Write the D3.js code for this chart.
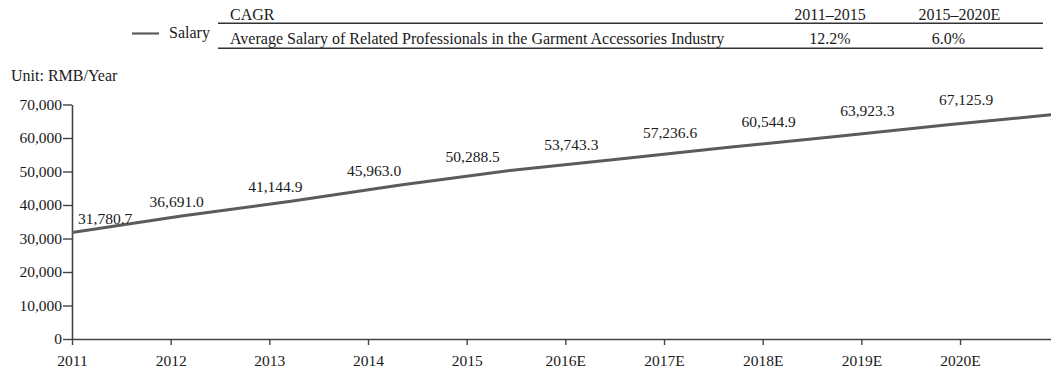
<!DOCTYPE html>
<html>
<head>
<meta charset="utf-8">
<script src="https://cdn.jsdelivr.net/npm/d3@7"></script>
<style>
  html, body { margin: 0; padding: 0; background: #fff; }
  svg { display: block; font-family: "Liberation Serif", "DejaVu Serif", serif; }
</style>
</head>
<body>
<svg id="chart" width="1051" height="372"></svg>
<script>
const categories = ["2011", "2012", "2013", "2014", "2015", "2016E", "2017E", "2018E", "2019E", "2020E"];
const salary = [31780.7, 36691.0, 41144.9, 45963.0, 50288.5, 53743.3, 57236.6, 60544.9, 63923.3, 67125.9];
const yTicks = [0, 10000, 20000, 30000, 40000, 50000, 60000, 70000];
const seriesName = "Salary";
const cagrHeader = ["CAGR", "2011\u20132015", "2015\u20132020E"];
const cagrRow = ["Average Salary of Related Professionals in the Garment Accessories Industry", "12.2%", "6.0%"];
const unitLabel = "Unit: RMB/Year";

const W = 1051, H = 372;
const svg = d3.select("#chart");
const textColor = "#1a1a1a";
const axisColor = "#444";
const lineColor = "#5b5b5b";
const font = "Liberation Serif, serif";

// scales
const y = d3.scaleLinear().domain([0, 70000]).range([339, 104.5]);
const step = 98.67;
const xAxisScale = d3.scaleLinear().domain([0, categories.length]).range([72, 72 + step * categories.length]);
const xLine = d3.scaleLinear().domain([0, categories.length - 1]).range([72, 72 + 109.5 * (categories.length - 1)]);

svg.append("defs").append("clipPath").attr("id", "clip")
  .append("rect").attr("x", 0).attr("y", 0).attr("width", W).attr("height", H);

// y axis
const yAxis = svg.append("g").attr("transform", "translate(72,0)")
  .call(d3.axisLeft(y).tickValues(yTicks).tickFormat(d3.format(",")).tickSize(9).tickSizeOuter(0).tickPadding(1));
yAxis.select(".domain").attr("stroke", axisColor).attr("stroke-width", 1.6);
yAxis.selectAll(".tick line").attr("stroke", axisColor).attr("stroke-width", 1.4);
yAxis.selectAll(".tick text").attr("fill", textColor).style("font-size", "15.5px").style("font-family", font);

// x axis
const xAxis = svg.append("g").attr("transform", "translate(0,339)")
  .call(d3.axisBottom(xAxisScale).tickValues(d3.range(categories.length)).tickFormat(i => categories[i]).tickSize(6).tickSizeOuter(0).tickPadding(10));
xAxis.select(".domain").attr("stroke", axisColor).attr("stroke-width", 1.6);
xAxis.selectAll(".tick line").attr("stroke", axisColor).attr("stroke-width", 1.4);
xAxis.selectAll(".tick text").attr("fill", textColor).style("font-size", "15.5px").style("font-family", font);

// line
const line = d3.line().x((d, i) => xLine(i)).y(d => y(d));
svg.append("path").datum(salary)
  .attr("clip-path", "url(#clip)")
  .attr("fill", "none").attr("stroke", lineColor).attr("stroke-width", 3)
  .attr("d", line);

// value labels
svg.append("g").selectAll("text").data(salary).join("text")
  .attr("x", (d, i) => xAxisScale(i) + 6)
  .attr("y", d => y(d) - 9)
  .attr("text-anchor", (d, i) => i === 0 ? "start" : "middle")
  .attr("fill", textColor)
  .style("font-size", "15.5px").style("font-family", font)
  .text(d => d3.format(",.1f")(d));

// unit label
svg.append("text").attr("x", 11).attr("y", 81).attr("fill", textColor)
  .style("font-size", "16px").style("font-family", font).text(unitLabel);

// legend
svg.append("line").attr("x1", 132).attr("x2", 159).attr("y1", 33.5).attr("y2", 33.5)
  .attr("stroke", lineColor).attr("stroke-width", 2.2);
svg.append("text").attr("x", 169).attr("y", 38).attr("fill", textColor)
  .style("font-size", "16px").style("font-family", font).text(seriesName);

// CAGR table
const tbl = svg.append("g").style("font-size", "16px").style("font-family", font).attr("fill", textColor);
tbl.append("text").attr("x", 230).attr("y", 19.5).text(cagrHeader[0]);
tbl.append("text").attr("x", 830).attr("y", 19.5).attr("text-anchor", "middle").text(cagrHeader[1]);
tbl.append("text").attr("x", 959.5).attr("y", 19.5).attr("text-anchor", "middle").text(cagrHeader[2]);
tbl.append("line").attr("x1", 218).attr("x2", 1043).attr("y1", 23.3).attr("y2", 23.3).attr("stroke", "#333").attr("stroke-width", 1.4);
tbl.append("text").attr("x", 230).attr("y", 43.5).text(cagrRow[0]);
tbl.append("text").attr("x", 830).attr("y", 43.5).attr("text-anchor", "middle").text(cagrRow[1]);
tbl.append("text").attr("x", 948.5).attr("y", 43.5).attr("text-anchor", "middle").text(cagrRow[2]);
tbl.append("line").attr("x1", 218).attr("x2", 1043).attr("y1", 48.3).attr("y2", 48.3).attr("stroke", "#333").attr("stroke-width", 1.4);
</script>
</body>
</html>
